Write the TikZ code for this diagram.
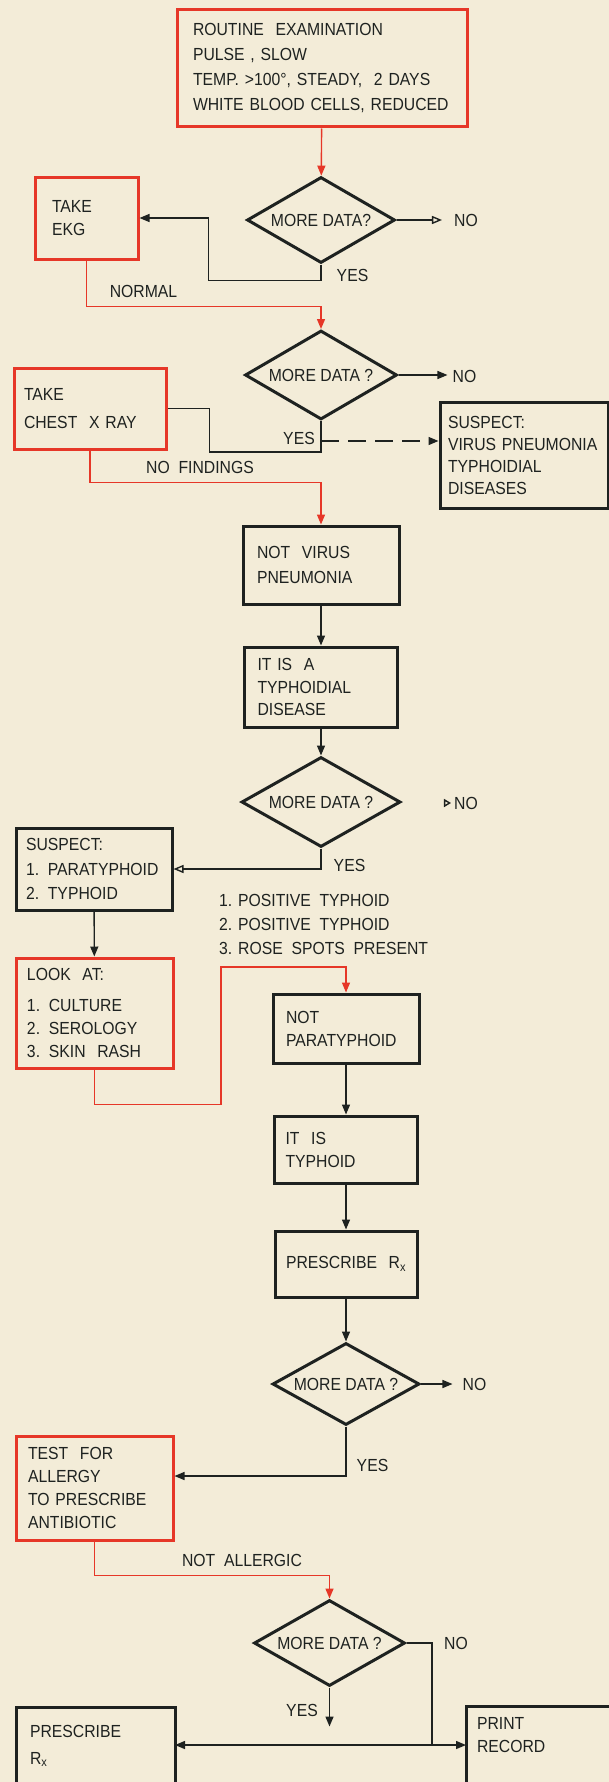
\documentclass[tikz,border=0pt]{standalone}
\usepackage{fontspec}
\setmainfont{Liberation Sans}[FakeStretch=0.9]
\usetikzlibrary{arrows.meta,shapes.geometric,calc}
\definecolor{bg}{RGB}{243,236,216}
\definecolor{rd}{RGB}{230,55,40}
\definecolor{ink}{RGB}{30,34,32}
\begin{document}
\begin{tikzpicture}[x=1pt,y=-1pt,
  every node/.style={font=\fontsize{17.5}{23}\selectfont, text=ink},
  ls/.style={font=\fontsize{17.5}{#1}\selectfont},
  bx/.style={draw=ink, line width=3pt, rectangle, align=left, inner ysep=2pt},
  rbx/.style={bx, draw=rd},
  dm/.style={draw=ink, line width=3pt, diamond, aspect=1.7, inner sep=0pt},
  ln/.style={draw=ink, line width=1.4pt},
  rln/.style={draw=rd, line width=1.4pt},
  tip/.style={-{Triangle[length=10pt,width=8pt]}},
  otip/.style={-{Triangle[open,length=10pt,width=8pt]}},
  lbl/.style={inner sep=0pt},
]
\fill[bg] (0,0) rectangle (609,1782);
\useasboundingbox (0,0) rectangle (609,1782);

% boxes
\node[rbx, ls=25, minimum width=290pt, minimum height=117pt, text width=258pt, inner xsep=16pt] (top) at (322,68.5)
  {ROUTINE~~EXAMINATION\\PULSE , SLOW\\TEMP. >100°, STEADY,~~2 DAYS\\WHITE BLOOD CELLS, REDUCED};
\node[rbx, minimum width=103pt, minimum height=82pt, text width=69pt, inner xsep=17pt] (EKG) at (86.5,218) {TAKE\\EKG};
\node[rbx, ls=28, minimum width=152pt, minimum height=81pt, text width=132pt, inner xsep=10pt] (chest) at (90,408.5) {TAKE\\CHEST~~X RAY};
\node[bx, ls=22, minimum width=168pt, minimum height=106pt, text width=152pt, inner xsep=8pt] (suspect) at (524,455) {SUSPECT:\\VIRUS PNEUMONIA\\TYPHOIDIAL\\DISEASES};
\node[bx, ls=25, minimum width=156pt, minimum height=78pt, text width=128pt, inner xsep=14pt] (notvirus) at (321,565) {NOT~~VIRUS\\PNEUMONIA};
\node[bx, ls=22.5, minimum width=153pt, minimum height=80pt, text width=127pt, inner xsep=13pt] (typhdis) at (321,687) {IT IS~~A\\TYPHOIDIAL\\DISEASE};
\node[bx, ls=24.5, minimum width=156pt, minimum height=82pt, text width=136pt, inner xsep=10pt] (para) at (94,869) {SUSPECT:\\1. PARATYPHOID\\2. TYPHOID};
\node[rbx, minimum width=157pt, minimum height=110pt, text width=135pt, inner xsep=11pt] (lookat) at (94.5,1013) {LOOK~~AT:\\[8pt]1. CULTURE\\2. SEROLOGY\\3. SKIN~~RASH};
\node[bx, minimum width=146pt, minimum height=69pt, text width=120pt, inner xsep=13pt] (notpara) at (346,1028.5) {NOT\\PARATYPHOID};
\node[bx, minimum width=143pt, minimum height=67pt, text width=121pt, inner xsep=11pt] (itistyph) at (346,1149.5) {IT~~IS\\TYPHOID};
\node[bx, minimum width=142pt, minimum height=66pt, text width=120pt, inner xsep=11pt] (prescribe) at (346,1264) {PRESCRIBE~~R\textsubscript{x}};
\node[rbx, ls=23.3, minimum width=157pt, minimum height=104pt, text width=133pt, inner xsep=12pt] (test) at (94.5,1488) {TEST~~FOR\\ALLERGY\\TO PRESCRIBE\\ANTIBIOTIC};
\node[bx, ls=27, anchor=north west, outer sep=0pt, text width=131pt, inner xsep=14pt, inner ysep=18pt] (presc2) at (16,1707) {PRESCRIBE\\R\textsubscript{x}\rule[-60pt]{0pt}{0pt}};
\node[bx, ls=23, anchor=north west, outer sep=0pt, text width=138pt, inner xsep=11pt, inner ysep=11pt] (printrec) at (466,1706) {PRINT\\RECORD\rule[-60pt]{0pt}{0pt}};

% diamonds
\node[dm, minimum width=148pt, minimum height=86pt] (D1) at (321,220) {MORE DATA?};
\node[dm, minimum width=152pt, minimum height=89pt] (D2) at (321,375) {MORE DATA ?};
\node[dm, minimum width=159pt, minimum height=90pt] (D3) at (321,802) {MORE DATA ?};
\node[dm, minimum width=147pt, minimum height=82pt] (D4) at (346,1384) {MORE DATA ?};
\node[dm, minimum width=151pt, minimum height=86pt] (D5) at (329.5,1643) {MORE DATA ?};

% labels
\node[lbl] (no1) at (466,220) {NO};
\node[lbl] (no2) at (464.5,376) {NO};
\node[lbl] (no3) at (466,803) {NO};
\node[lbl] (no4) at (474.5,1384) {NO};
\node[lbl] (no5) at (456,1643) {NO};
\node[lbl] (yes1) at (352.5,275) {YES};
\node[lbl] (yes2) at (299,438) {YES};
\node[lbl] (yes3) at (349.5,865) {YES};
\node[lbl] (yes4) at (372.5,1465) {YES};
\node[lbl] (yes5) at (302,1710) {YES};
\node[lbl] (normal) at (143.5,291) {NORMAL};
\node[lbl] (nofind) at (200,467) {NO~~FINDINGS};
\node[lbl] (notall) at (242,1560) {NOT~~ALLERGIC};
\node[lbl, anchor=west, align=left, ls=24] (find) at (219,924)
  {1. POSITIVE~~TYPHOID\\2. POSITIVE~~TYPHOID\\3. ROSE~~SPOTS~~PRESENT};

% connectors
\draw[rln,tip] (top) -- (D1);
\draw[ln,tip] (D1.south) -- ++(0,16) -| ([xshift=69pt]EKG.east) -- (EKG.east);
\draw[ln,otip,shorten >=12pt] (D1.east) -- (D1.east -| no1.west);
\draw[rln,tip] (EKG.south) -- ++(0,46) -| (D2.north);
\draw[ln,tip,shorten >=5pt] (D2.east) -- (D2.east -| no2.west);
\draw[ln] (D2.south) -- ++(0,31) -| ([xshift=42pt]chest.east) -- (chest.east);
\coordinate (dj) at ([yshift=-20pt]D2.south);
\draw[ln,dash pattern=on 18pt off 9pt,tip] (dj) -- (dj -| suspect.west);
\draw[rln,tip] (chest.south) -- ++(0,32) -| (notvirus.north);
\draw[ln,tip] (notvirus) -- (typhdis);
\draw[ln,tip] (typhdis) -- (D3);
\draw[ln,-{Triangle[open,length=7pt,width=8pt]}] ([xshift=-10pt]no3.west) -- ([xshift=-3pt]no3.west);
\draw[ln,otip] (D3.south) |- (para.east);
\draw[ln,tip] (para) -- (lookat);
\draw[rln,tip] (lookat.south) -- ++(0,35) -| (221,967) -| (notpara.north);
\draw[ln,tip] (notpara) -- (itistyph);
\draw[ln,tip] (itistyph) -- (prescribe);
\draw[ln,tip] (prescribe) -- (D4);
\draw[ln,tip,shorten >=10pt] (D4.east) -- (D4.east -| no4.west);
\draw[ln,tip] (D4.south) |- ([yshift=12pt]test.east);
\draw[rln,tip] (test.south) -- ++(0,34) -| (D5.north);
\coordinate (jn) at (432,1745);
\draw[ln] (D5.east) -| (jn);
\draw[ln,tip] (jn) -- (jn -| printrec.west);
\draw[ln,tip] (jn) -- (jn -| presc2.east);
\draw[ln,tip] (D5.south) -- ++(0,39);
\end{tikzpicture}
\end{document}
